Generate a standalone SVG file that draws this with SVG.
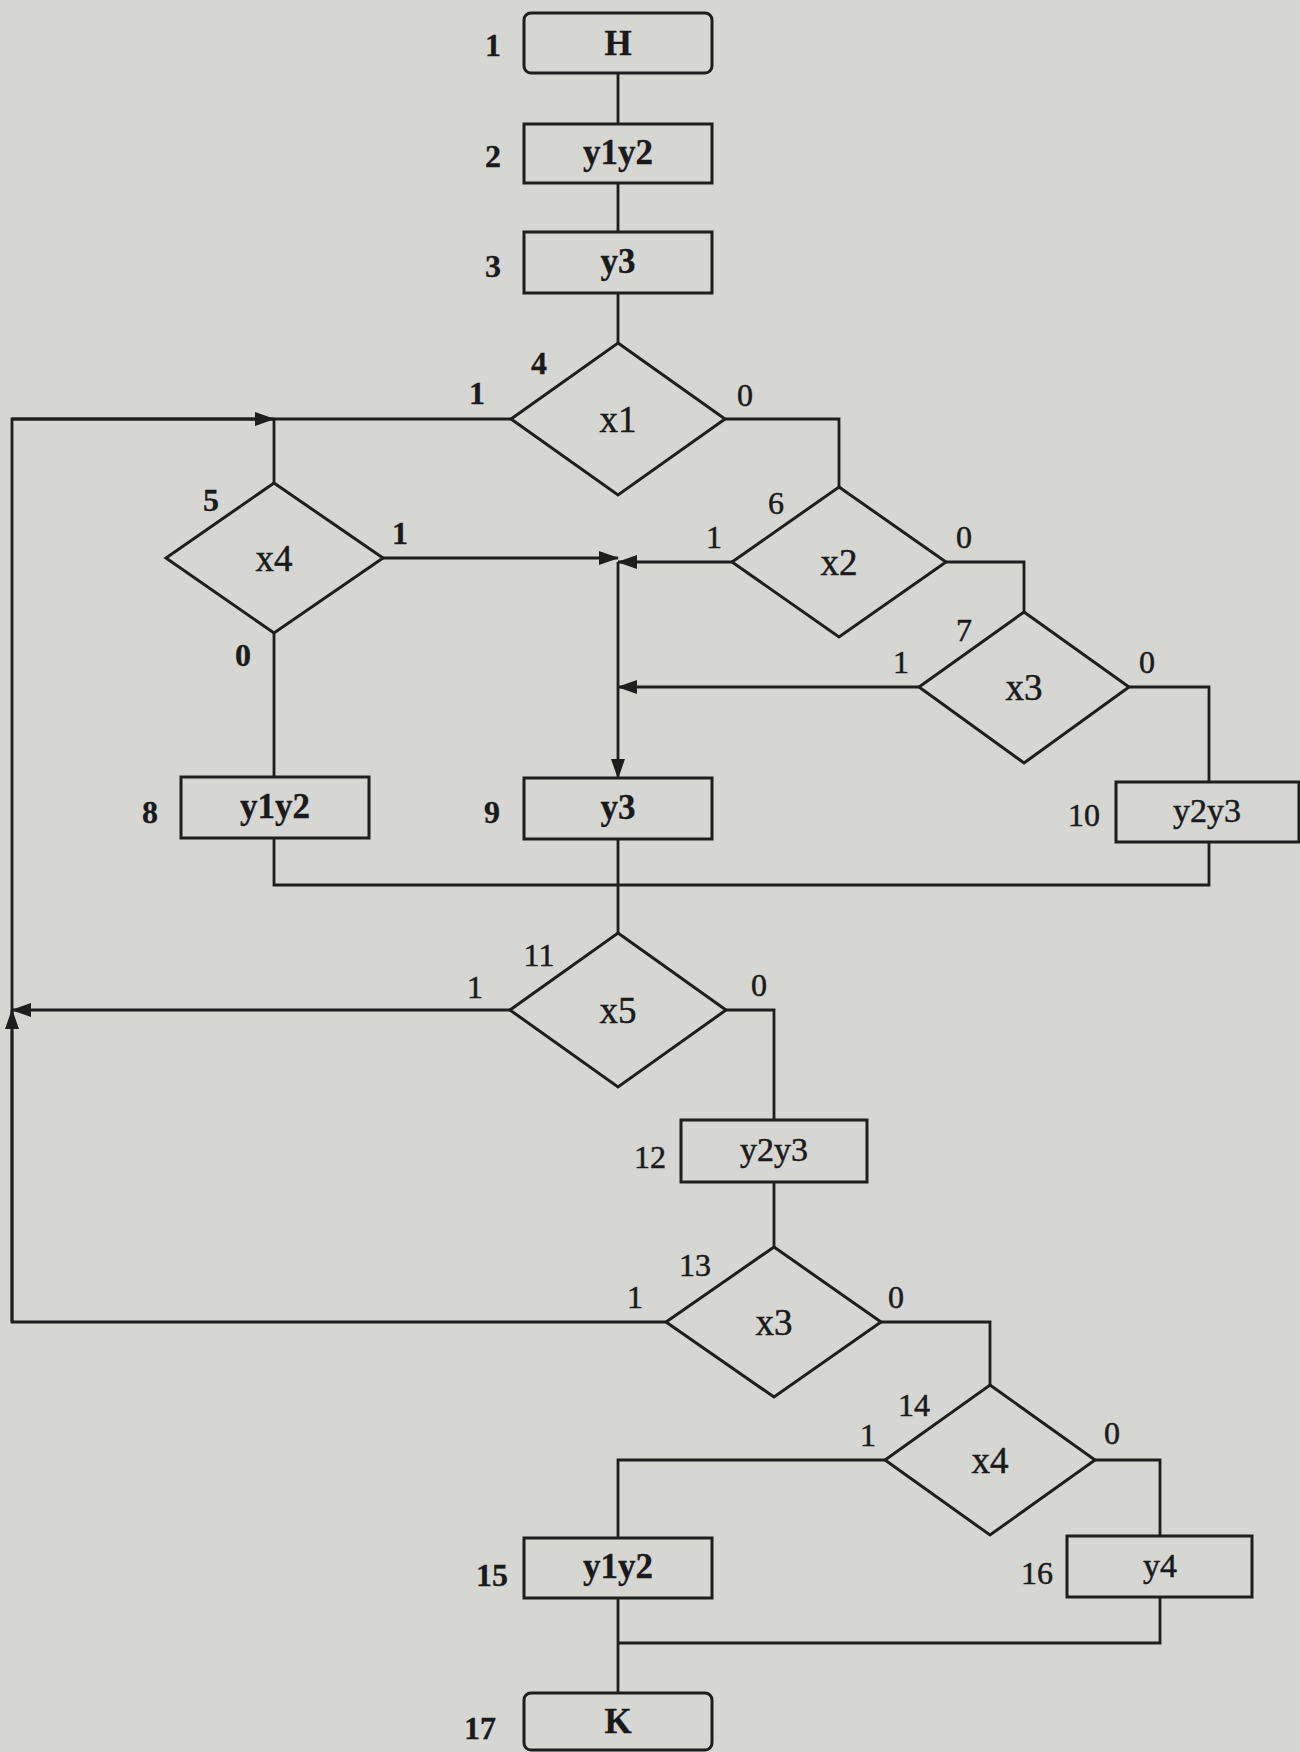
<svg xmlns="http://www.w3.org/2000/svg" width="1300" height="1752" viewBox="0 0 1300 1752">
<defs>
<marker id="ah" markerWidth="20" markerHeight="14" refX="19" refY="7" orient="auto" markerUnits="userSpaceOnUse">
<path d="M0,0 L20,7 L0,14 Z" fill="#1e1e1e"/>
</marker>
</defs>
<style>
.bg{fill:#d6d6d3}
.n{fill:none;stroke:#1e1e1e;stroke-width:3}
.c{fill:none;stroke:#1e1e1e;stroke-width:2.8}
text{font-family:"Liberation Serif","DejaVu Serif",serif;font-size:32px;fill:#1a1a1a;stroke:#1a1a1a;stroke-width:0.5;text-anchor:middle;dominant-baseline:central}
.b{font-weight:bold;stroke-width:0.3}
.d{font-size:37px}
.bx{font-size:35px}
.rx{font-size:34px}
</style>
<rect class="bg" x="0" y="0" width="1300" height="1752"/>

<g id="connectors">
<path class="c" d="M618,73 V124"/>
<path class="c" d="M618,183 V232"/>
<path class="c" d="M618,293 V343"/>
<path class="c" d="M511,419 H12 V1322 H666"/>
<path class="c" d="M274,483 V419"/>
<path class="c" d="M12,419 H274" marker-end="url(#ah)"/>
<path class="c" d="M383,558 H618" marker-end="url(#ah)"/>
<path class="c" d="M725,419 H839 V487"/>
<path class="c" d="M732,562 H618" marker-end="url(#ah)"/>
<path class="c" d="M946,562 H1024 V612"/>
<path class="c" d="M919,687 H618" marker-end="url(#ah)"/>
<path class="c" d="M618,562 V778" marker-end="url(#ah)"/>
<path class="c" d="M1129,687 H1209 V782"/>
<path class="c" d="M274,633 V777"/>
<path class="c" d="M274,838 V885 H1209 V842"/>
<path class="c" d="M618,839 V933"/>
<path class="c" d="M510,1010 H12" marker-end="url(#ah)"/>
<path class="c" d="M12,1322 V1010" marker-end="url(#ah)"/>
<path class="c" d="M726,1010 H774 V1120"/>
<path class="c" d="M774,1182 V1247"/>
<path class="c" d="M881,1322 H990 V1385"/>
<path class="c" d="M885,1460 H618 V1538"/>
<path class="c" d="M1095,1460 H1160 V1536"/>
<path class="c" d="M1160,1597 V1643 H618"/>
<path class="c" d="M618,1598 V1693"/>
</g>

<g id="n1"><rect class="n" x="524" y="13" width="188" height="60" rx="7"/><text class="b bx" x="618" y="43">H</text><text class="b" x="493" y="45">1</text></g>
<g id="n2"><rect class="n" x="524" y="124" width="188" height="59"/><text class="b bx" x="618" y="152">y1y2</text><text class="b" x="493" y="156">2</text></g>
<g id="n3"><rect class="n" x="524" y="232" width="188" height="61"/><text class="b bx" x="618" y="261">y3</text><text class="b" x="493" y="266">3</text></g>
<g id="n4"><polygon class="n" points="618,343 725,419 618,495 511,419"/><text class="d" x="618" y="419">x1</text><text class="b" x="539" y="363">4</text><text class="b" x="477" y="393">1</text><text x="745" y="395">0</text></g>
<g id="n5"><polygon class="n" points="274,483 383,558 274,633 166,558"/><text class="d" x="274" y="558">x4</text><text class="b" x="211" y="500">5</text><text class="b" x="400" y="533">1</text><text class="b" x="243" y="655">0</text></g>
<g id="n6"><polygon class="n" points="839,487 946,562 839,637 732,562"/><text class="d" x="839" y="562">x2</text><text x="776" y="503">6</text><text x="714" y="537">1</text><text x="964" y="537">0</text></g>
<g id="n7"><polygon class="n" points="1024,612 1129,687 1024,763 919,687"/><text class="d" x="1024" y="687">x3</text><text x="964" y="630">7</text><text x="901" y="662">1</text><text x="1147" y="662">0</text></g>
<g id="n8"><rect class="n" x="181" y="777" width="188" height="61"/><text class="b bx" x="275" y="806">y1y2</text><text class="b" x="150" y="812">8</text></g>
<g id="n9"><rect class="n" x="524" y="778" width="188" height="61"/><text class="b bx" x="618" y="807">y3</text><text class="b" x="492" y="812">9</text></g>
<g id="n10"><rect class="n" x="1116" y="782" width="183" height="60"/><text class="rx" x="1207" y="810">y2y3</text><text x="1084" y="815">10</text></g>
<g id="n11"><polygon class="n" points="618,933 726,1010 618,1087 510,1010"/><text class="d" x="618" y="1010">x5</text><text x="539" y="955">11</text><text x="475" y="987">1</text><text x="759" y="985">0</text></g>
<g id="n12"><rect class="n" x="681" y="1120" width="186" height="62"/><text class="rx" x="774" y="1149">y2y3</text><text x="650" y="1157">12</text></g>
<g id="n13"><polygon class="n" points="774,1247 881,1322 774,1397 666,1322"/><text class="d" x="774" y="1322">x3</text><text x="695" y="1265">13</text><text x="635" y="1297">1</text><text x="896" y="1297">0</text></g>
<g id="n14"><polygon class="n" points="990,1385 1095,1460 990,1535 885,1460"/><text class="d" x="990" y="1460">x4</text><text x="914" y="1405">14</text><text x="868" y="1435">1</text><text x="1112" y="1433">0</text></g>
<g id="n15"><rect class="n" x="524" y="1538" width="188" height="60"/><text class="b bx" x="618" y="1566">y1y2</text><text class="b" x="492" y="1575">15</text></g>
<g id="n16"><rect class="n" x="1067" y="1536" width="185" height="61"/><text class="rx" x="1160" y="1565">y4</text><text x="1037" y="1573">16</text></g>
<g id="n17"><rect class="n" x="524" y="1693" width="188" height="57" rx="7"/><text class="b bx" x="618" y="1721">K</text><text class="b" x="480" y="1728">17</text></g>
</svg>
